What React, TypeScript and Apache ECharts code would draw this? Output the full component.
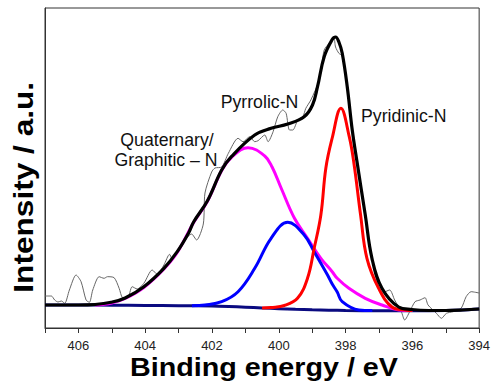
import React, { useEffect, useRef } from "react";
import * as echarts from "echarts";

// Binding energy (eV), intensity (a.u.) pairs
const rawSpectrum: [number, number][] = [
  [407.0, 32], [406.81, 32], [406.71, 28], [406.61, 26], [406.51, 27], [406.41, 24.7],
  [406.27, 38], [406.07, 53], [405.92, 46.3], [405.77, 28], [405.67, 25.7], [405.57, 38],
  [405.38, 51.3], [405.23, 49.7], [405.13, 51.3], [404.93, 50.3], [404.78, 39.7], [404.68, 30.3],
  [404.53, 29.7], [404.39, 41.3], [404.24, 39], [404.04, 44.7], [403.79, 58], [403.64, 53.7],
  [403.44, 63], [403.27, 73.7], [403.2, 69.7], [403.05, 76.3], [402.61, 94], [402.46, 88],
  [402.26, 104], [402.21, 135], [402.01, 156], [401.91, 160], [401.71, 161], [401.51, 174.7],
  [401.22, 189.7], [401.07, 186.3], [400.87, 191.3], [400.72, 186.3], [400.62, 187.3],
  [400.42, 193], [400.32, 186.3], [400.17, 196.3], [400.03, 211.3], [399.88, 218],
  [399.78, 214.7], [399.68, 198], [399.58, 198], [399.43, 208], [399.28, 211.3], [399.19, 219.7],
  [399.04, 228], [398.79, 248], [398.64, 278], [398.49, 284.7], [398.35, 289.7], [398.3, 281],
  [398.2, 274.7], [398.1, 272], [397.95, 241], [397.8, 198], [397.65, 164], [397.41, 112],
  [397.21, 69], [396.9, 35], [396.68, 38], [396.53, 28], [396.33, 16.3], [396.23, 8],
  [396.08, 16.3], [395.92, 26.3], [395.77, 28], [395.62, 30.3], [395.53, 23], [395.28, 14.7],
  [395.13, 9.7], [394.98, 14.7], [394.78, 16.3], [394.54, 19.7], [394.39, 31.3], [394.24, 36.3],
  [394.0, 35],
];

const envelope: [number, number][] = [
  [407.0, 23], [406.0, 23], [405.5, 23.5], [405.02, 25.7], [404.6, 30], [404.04, 41.3],
  [403.44, 59.7], [403.04, 76.3], [402.7, 95], [402.55, 106], [402.14, 127], [401.71, 158],
  [401.42, 171.3], [400.72, 193], [400.23, 199.7], [399.73, 204], [399.24, 211.3],
  [398.99, 223], [398.84, 241.3], [398.64, 271.3], [398.4, 288.5], [398.3, 291], [398.2, 286],
  [398.1, 274.7], [397.95, 241.3], [397.8, 198], [397.65, 164.7], [397.41, 113],
  [397.21, 69.7], [396.91, 39.7], [396.41, 21], [396.02, 18.5], [395.5, 17.5], [395.0, 17.5],
  [394.5, 18], [394.0, 19],
];

const pyridinic: [number, number][] = [
  [400.5, 20], [400.23, 20.5], [399.83, 22.5], [399.44, 29.7], [399.14, 49.7], [398.94, 79.7],
  [398.74, 113], [398.59, 160], [398.4, 190], [398.14, 219.7], [397.89, 191.3], [397.75, 164.7],
  [397.55, 113], [397.36, 69.7], [397.01, 39.7], [396.61, 21], [396.22, 18], [396.0, 17.5],
];

const pyrrolic: [number, number][] = [
  [402.6, 22.2], [402.21, 23], [401.71, 26.3], [401.22, 36.3], [400.72, 59.7], [400.23, 89.7],
  [399.73, 105.7], [399.24, 93], [398.94, 76.3], [398.54, 53], [398.4, 44], [398.25, 36],
  [398.1, 26.3], [397.6, 18], [397.2, 17.4],
];

const quaternary: [number, number][] = [
  [405.5, 23], [405.0, 25], [404.6, 29.5], [404.04, 40.5], [403.44, 59], [403.04, 75.5],
  [402.55, 105.5], [402.14, 126.5], [401.71, 157.5], [401.42, 170.5], [400.92, 180.3],
  [400.42, 172], [400.2, 161], [399.93, 140], [399.53, 109.7], [399.14, 89.7], [398.74, 69.7],
  [398.4, 56.3], [398.25, 49.7], [397.9, 39.7], [397.41, 29.7], [396.91, 23], [396.41, 18],
  [396.0, 17.4],
];

const background: [number, number][] = [
  [407, 23], [406, 23], [405, 22.8], [404, 22.6], [403, 22.3], [402, 22], [401.5, 21.5],
  [401, 20.8], [400.5, 20], [400, 19.3], [399.5, 18.7], [399, 18.2], [398.5, 17.8], [398, 17.5],
  [397, 17.3], [396, 17.3], [395, 17.5], [394.5, 18], [394, 19],
];

const xMin = 394;
const xMax = 407;

const FONT = "Liberation Sans, Arial, sans-serif";

function line(name: string, data: [number, number][], color: string, width: number, smooth: number) {
  return {
    name,
    type: "line",
    data,
    smooth,
    symbol: "none",
    showSymbol: false,
    silent: true,
    lineStyle: { color, width },
  };
}

export default function App() {
  const ref = useRef<HTMLDivElement>(null);
  useEffect(() => {
    if (!ref.current) return;
    const chart = echarts.init(ref.current, undefined, { renderer: "svg" });
    chart.setOption({
      animation: false,
      backgroundColor: "#ffffff",
      grid: { left: 45, right: 10, top: 8, bottom: 54, show: true, borderColor: "#333", borderWidth: 1 },
      xAxis: {
        type: "value",
        min: xMin,
        max: xMax,
        interval: 1,
        inverse: true,
        axisLine: { onZero: false, lineStyle: { color: "#333", width: 1 } },
        axisTick: { show: true, inside: false, length: 5, lineStyle: { color: "#333" } },
        axisLabel: {
          interval: 0,
          formatter: (v: number) => (v % 2 === 0 ? String(v) : ""),
          fontSize: 13,
          fontFamily: FONT,
          color: "#222",
          margin: 11,
        },
        splitLine: { show: false },
      },
      yAxis: {
        type: "value",
        min: 0,
        max: 320,
        axisLine: { show: true, lineStyle: { color: "#333", width: 1 } },
        axisTick: { show: false },
        axisLabel: { show: false },
        splitLine: { show: false },
      },
      series: [
        line("Raw", rawSpectrum, "#666666", 1, 0.25),
        line("Background", background, "#0a0a80", 3, 0.3),
        line("Quaternary/Graphitic-N", quaternary, "#ff00ff", 3, 0.4),
        line("Pyrrolic-N", pyrrolic, "#0000ff", 3, 0.4),
        line("Pyridinic-N", pyridinic, "#ff0000", 3, 0.4),
        line("Envelope", envelope, "#000000", 3.2, 0.4),
      ],
      graphic: [
        {
          type: "text", x: 361, y: 115.6,
          style: { text: "Pyridinic-N", font: `17.7px ${FONT}`, fill: "#111", align: "left", verticalAlign: "middle" },
        },
        {
          type: "text", x: 220.7, y: 102.2,
          style: { text: "Pyrrolic-N", font: `17.7px ${FONT}`, fill: "#111", align: "left", verticalAlign: "middle" },
        },
        {
          type: "text", x: 167, y: 139.6,
          style: { text: "Quaternary/", font: `17.7px ${FONT}`, fill: "#111", align: "center", verticalAlign: "middle" },
        },
        {
          type: "text", x: 166, y: 159.6,
          style: { text: "Graphitic – N", font: `17.7px ${FONT}`, fill: "#111", align: "center", verticalAlign: "middle" },
        },
        {
          type: "text", x: 264, y: 368, scaleX: 1.148,
          style: { text: "Binding energy / eV", font: `bold 25px ${FONT}`, fill: "#000", align: "center", verticalAlign: "middle" },
        },
        {
          type: "text", x: 23.6, y: 187.3, rotation: Math.PI / 2, scaleX: 1.13,
          style: { text: "Intensity / a.u.", font: `bold 28px ${FONT}`, fill: "#000", align: "center", verticalAlign: "middle" },
        },
      ],
    });
    return () => chart.dispose();
  }, []);
  return (
    <div
      ref={ref}
      style={{ position: "absolute", left: 0, top: 0, width: 493, height: 382, background: "#fff" }}
    />
  );
}
